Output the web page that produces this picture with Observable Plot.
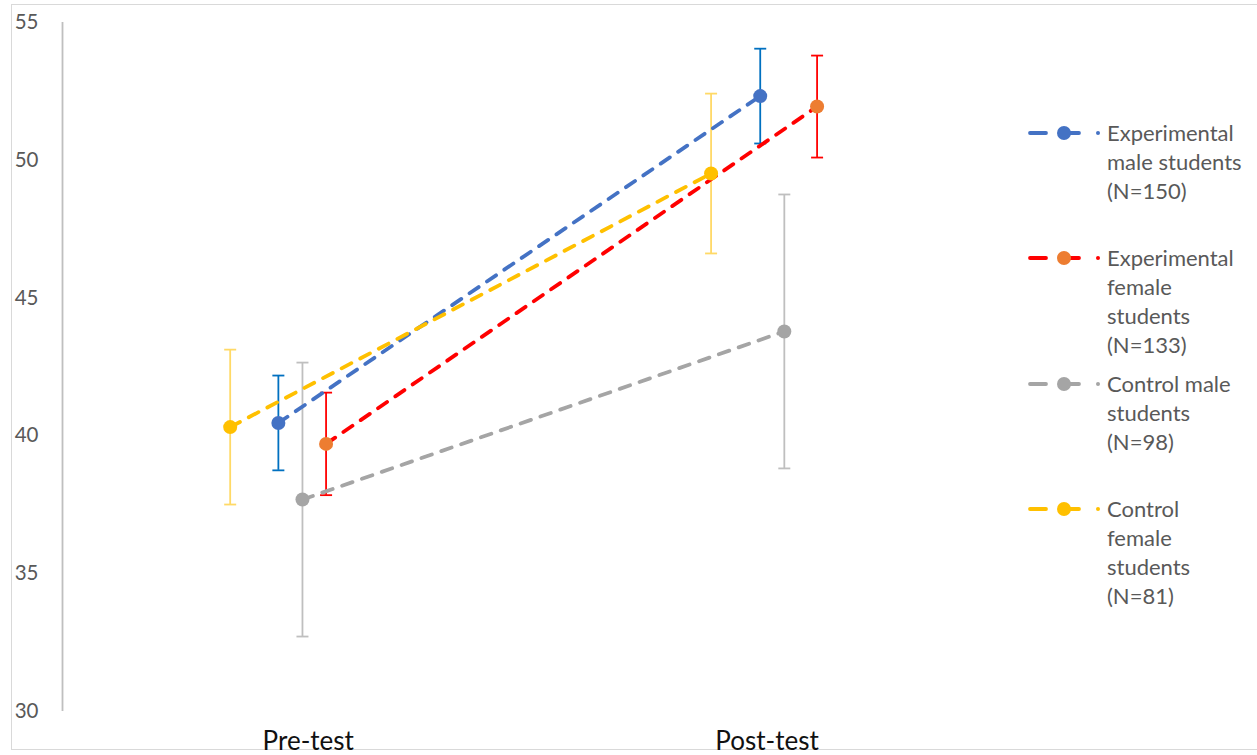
<!DOCTYPE html>
<html><head><meta charset="utf-8">
<script src="https://cdn.jsdelivr.net/npm/d3@7"></script>
<script src="https://cdn.jsdelivr.net/npm/@observablehq/plot@0.6"></script>
<style>
html,body{margin:0;padding:0;background:#fff;overflow:hidden;}
#wrap{position:relative;width:1257px;height:755px;}
#border{position:absolute;left:11px;top:4px;width:1260px;height:746px;border:1.5px solid #D9D9D9;box-sizing:border-box;}
#chart{position:absolute;left:0;top:0;}
.leg{position:absolute;left:1025px;font-family:Lato,sans-serif;font-size:22px;line-height:29px;color:#595959;}
.leg svg{position:absolute;left:0;top:6px;}
.leg .t{position:absolute;left:82px;top:0;white-space:nowrap;}
</style></head>
<body><div id="wrap"><div id="border"></div><div id="chart"></div></div>
<script>
// ---- data ----
const tests = ["Pre-test", "Post-test"];
const seriesNames = ["Experimental male students (N=150)", "Experimental female students (N=133)", "Control male students (N=98)", "Control female students (N=81)"];
const legendLines = [["Experimental", "male students", "(N=150)"], ["Experimental", "female", "students", "(N=133)"], ["Control male", "students", "(N=98)"], ["Control", "female", "students", "(N=81)"]];
const xPre = [0.938, 1.037, 0.988, 0.838];
const xPost = [1.938, 2.056, 1.988, 1.836];
const meanPre = [40.47, 39.71, 37.69, 40.32];
const meanPost = [52.33, 51.95, 43.79, 49.52];
const errPre = [1.72, 1.86, 4.97, 2.81];
const errPost = [1.72, 1.85, 4.97, 2.90];
const yTicks = [30, 35, 40, 45, 50, 55];
// ---- styles ----
const lineColors = ["#4472C4", "#FF0000", "#A5A5A5", "#FFC000"];
const markerColors = ["#4472C4", "#ED7D31", "#A5A5A5", "#FFC000"];
const errColors = ["#0070C0", "#FF0000", "#BFBFBF", "#FFD966"];
const legendTops = [132, 257, 383, 508];

const rows = [];
seriesNames.forEach((s, i) => {
  rows.push({series: i, test: tests[0], x: xPre[i], y: meanPre[i], lo: meanPre[i] - errPre[i], hi: meanPre[i] + errPre[i]});
  rows.push({series: i, test: tests[1], x: xPost[i], y: meanPost[i], lo: meanPost[i] - errPost[i], hi: meanPost[i] + errPost[i]});
});

const capSymbol = {draw(ctx, size) { const r = Math.sqrt(size / Math.PI); ctx.moveTo(-r, 0); ctx.lineTo(r, 0); }};
const xDomain = [0.49, 2.97];

const marks = [
  Plot.ruleX([xDomain[0]], {y1: yTicks[0], y2: yTicks[yTicks.length - 1], stroke: "#BFBFBF", strokeWidth: 1.8}),
  Plot.axisY({ticks: yTicks, tickSize: 0, tickPadding: 24, fontSize: 20.5, fill: "#595959", fontFamily: "Lato, sans-serif", label: null}),
  Plot.text([tests[0]], {x: 1, frameAnchor: "bottom", dy: 38, text: d => d, fontSize: 26, fill: "#111", fontFamily: "Lato, sans-serif"}),
  Plot.text([tests[1]], {x: 2, frameAnchor: "bottom", dy: 38, dx: -23, text: d => d, fontSize: 26, fill: "#111", fontFamily: "Lato, sans-serif"})
];
seriesNames.forEach((s, i) => {
  const d = rows.filter(r => r.series === i);
  marks.push(
    Plot.ruleX(d, {x: "x", y1: "lo", y2: "hi", stroke: errColors[i], strokeWidth: 1.8}),
    Plot.dot(d, {x: "x", y: "lo", symbol: capSymbol, r: 6, stroke: errColors[i], strokeWidth: 1.8}),
    Plot.dot(d, {x: "x", y: "hi", symbol: capSymbol, r: 6, stroke: errColors[i], strokeWidth: 1.8})
  );
});
seriesNames.forEach((s, i) => {
  const d = rows.filter(r => r.series === i);
  marks.push(
    Plot.line(d, {x: "x", y: "y", stroke: lineColors[i], strokeWidth: 3.8, strokeDasharray: "11,10", strokeLinecap: "round"}),
    Plot.dot(d, {x: "x", y: "y", r: 7, fill: markerColors[i], stroke: "none"})
  );
});

const chart = Plot.plot({
  width: 1257, height: 755,
  marginLeft: 62, marginRight: 0, marginTop: 22, marginBottom: 44,
  x: {domain: xDomain, axis: null},
  y: {domain: [yTicks[0], yTicks[yTicks.length - 1]], axis: null},
  style: {background: "transparent", fontFamily: "Lato, sans-serif"},
  marks
});
document.getElementById("chart").appendChild(chart);

// legend
const wrap = document.getElementById("wrap");
seriesNames.forEach((s, i) => {
  const el = document.createElement("div");
  el.className = "leg";
  el.style.top = (legendTops[i] - 14.5) + "px";
  el.innerHTML = `<svg width="80" height="18" viewBox="0 0 80 18">
    <line x1="5" y1="9" x2="21" y2="9" stroke="${lineColors[i]}" stroke-width="3.8" stroke-linecap="round"/>
    <line x1="39" y1="9" x2="54" y2="9" stroke="${lineColors[i]}" stroke-width="3.8" stroke-linecap="round"/>
    <circle cx="39" cy="9" r="7" fill="${markerColors[i]}"/>
    <circle cx="73" cy="9" r="2" fill="${lineColors[i]}"/></svg>
    <div class="t">${legendLines[i].join("<br>")}</div>`;
  wrap.appendChild(el);
});
</script></body></html>
